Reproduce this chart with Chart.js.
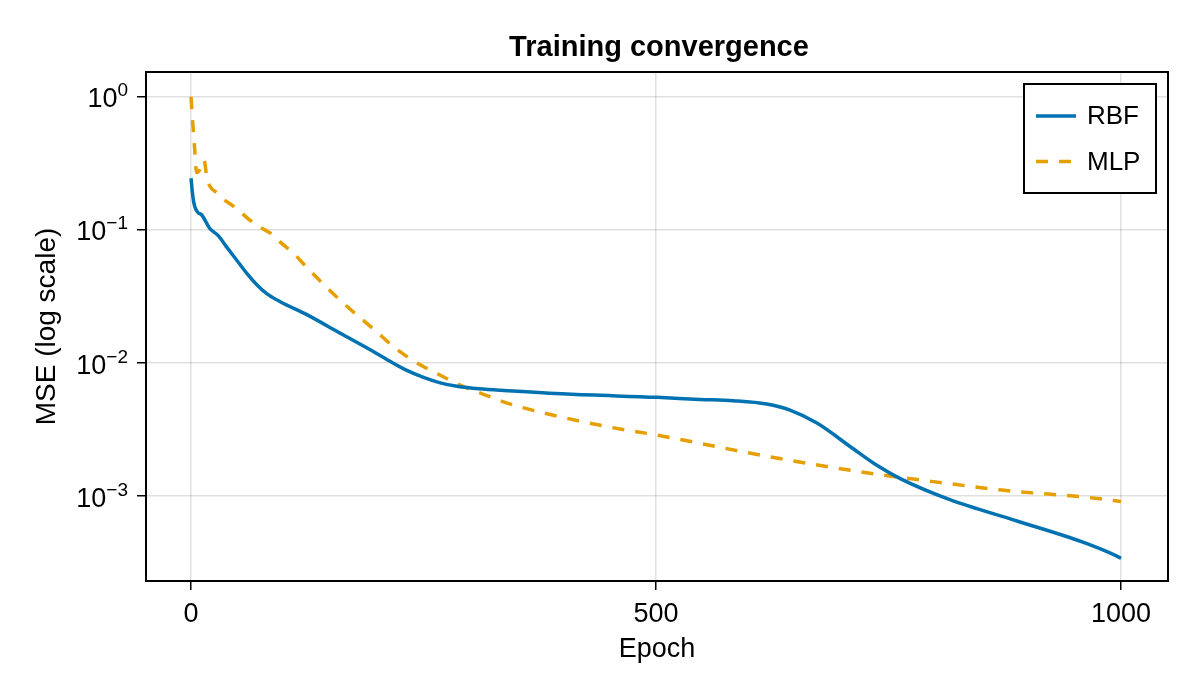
<!DOCTYPE html>
<html>
<head>
<meta charset="utf-8">
<script src="https://cdn.jsdelivr.net/npm/chart.js@4/dist/chart.umd.min.js"></script>
<style>
  html, body { margin: 0; padding: 0; background: #fff; }
  #wrap { width: 1200px; height: 700px; }
</style>
</head>
<body>
<div id="wrap"><canvas id="chart" width="1200" height="700"></canvas></div>
<script>
  const FONT = '"Liberation Sans", Arial, Helvetica, sans-serif';
  const BLUE = "#0072b2";
  const ORANGE = "#e69f00";

  const xTicks = [0, 500, 1000];
  const yTicks = [1e-3, 1e-2, 1e-1, 1];
  const yTickExponents = ["−3", "−2", "−1", "0"];

  const rbfEpochs = [0, 2, 4, 8, 11, 14, 20, 29, 38, 49, 60, 71, 81, 96, 125, 160, 196, 214, 232, 250, 268, 286, 310, 340, 404, 501, 547, 583, 619, 644, 673, 709, 737, 762, 816, 888, 959, 995, 1000];
  const rbfMse = [0.245, 0.178, 0.15, 0.134, 0.131, 0.122, 0.103, 0.091, 0.075, 0.0595, 0.0472, 0.0386, 0.0334, 0.0289, 0.023, 0.0168, 0.0122, 0.0103, 0.0088, 0.0078, 0.0071, 0.0067, 0.0064, 0.0062, 0.00585, 0.00552, 0.00533, 0.00521, 0.00492, 0.00443, 0.00354, 0.00235, 0.00171, 0.00136, 0.00094, 0.00065, 0.00045, 0.000355, 0.00034];

  const mlpEpochs = [0, 2, 4, 6, 9, 14, 17, 20, 28, 34, 44, 53, 63, 74, 85, 96, 110, 125, 160, 200, 217, 240, 265, 290, 315, 340, 370, 400, 450, 500, 618, 712, 743, 796, 872, 975, 1000];
  const mlpMse = [1.0, 0.62, 0.4, 0.27, 0.28, 0.335, 0.25, 0.215, 0.19, 0.172, 0.154, 0.137, 0.119, 0.105, 0.095, 0.081, 0.067, 0.052, 0.0298, 0.0171, 0.0134, 0.0103, 0.0083, 0.0068, 0.0058, 0.005, 0.00437, 0.0039, 0.0033, 0.00288, 0.002, 0.00155, 0.00144, 0.00129, 0.00111, 0.00096, 0.00091];

  const toPoints = (xs, ys) => xs.map((x, i) => ({ x, y: ys[i] }));

  // frame, title, 10^n tick labels and boxed legend like the original
  const decorPlugin = {
    id: "decor",
    afterDraw(chart) {
      const { ctx, chartArea: a } = chart;
      const ys = chart.scales.y;
      ctx.save();
      ctx.strokeStyle = "#000";
      ctx.lineWidth = 2;
      ctx.strokeRect(a.left, a.top, a.right - a.left, a.bottom - a.top);

      ctx.fillStyle = "#000";
      ctx.font = `bold 29px ${FONT}`;
      ctx.textAlign = "center";
      ctx.textBaseline = "middle";
      ctx.fillText("Training convergence", (a.left + a.right) / 2 + 2, 48);

      // y tick labels: "10" with raised exponent
      ctx.textBaseline = "alphabetic";
      ctx.textAlign = "left";
      yTicks.forEach((v, i) => {
        const py = ys.getPixelForValue(v);
        const exp = yTickExponents[i];
        ctx.font = `19px ${FONT}`;
        const ew = ctx.measureText(exp).width;
        ctx.font = `27px ${FONT}`;
        const bw = ctx.measureText("10").width;
        const right = 128;
        const x0 = right - ew - bw;
        ctx.fillText("10", x0, py + 10.5);
        ctx.font = `19px ${FONT}`;
        ctx.fillText(exp, x0 + bw, py - 0.5);
      });

      // legend
      const bx = 1024, by = 84, bw = 132, bh = 109;
      ctx.fillStyle = "#fff";
      ctx.fillRect(bx, by, bw, bh);
      ctx.strokeRect(bx, by, bw, bh);
      ctx.font = `26px ${FONT}`;
      ctx.textAlign = "left";
      ctx.textBaseline = "middle";
      chart.data.datasets.forEach((ds, i) => {
        const y = 116 + i * 45.5;
        ctx.strokeStyle = ds.borderColor;
        ctx.lineWidth = ds.borderWidth;
        ctx.setLineDash(ds.borderDash || []);
        ctx.beginPath();
        ctx.moveTo(1036, y);
        ctx.lineTo(1076, y);
        ctx.stroke();
        ctx.setLineDash([]);
        ctx.fillStyle = "#000";
        ctx.fillText(ds.label, 1087, y + 1);
      });
      ctx.restore();
    },
  };

  new Chart(document.getElementById("chart"), {
    type: "line",
    data: {
      datasets: [
        {
          label: "RBF",
          data: toPoints(rbfEpochs, rbfMse),
          borderColor: BLUE,
          borderWidth: 3.5,
          pointRadius: 0,
          cubicInterpolationMode: "monotone",
          fill: false,
        },
        {
          label: "MLP",
          data: toPoints(mlpEpochs, mlpMse),
          borderColor: ORANGE,
          borderWidth: 3.5,
          borderDash: [12, 11],
          pointRadius: 0,
          cubicInterpolationMode: "monotone",
          fill: false,
        },
      ],
    },
    options: {
      responsive: false,
      devicePixelRatio: 1,
      animation: false,
      layout: { padding: { top: 72, right: 32, bottom: 0, left: 0 } },
      plugins: {
        legend: { display: false },
        title: { display: false },
        tooltip: { enabled: false },
      },
      scales: {
        x: {
          type: "linear",
          min: -48.4,
          max: 1050.5,
          afterBuildTicks: (s) => { s.ticks = xTicks.map((v) => ({ value: v })); },
          afterFit: (s) => { s.height = 119; },
          grid: { color: "rgba(0,0,0,0.12)", lineWidth: 1.5, tickLength: 9, tickColor: "#000", tickWidth: 1.5 },
          border: { display: false },
          ticks: { color: "#000", font: { family: FONT, size: 27 }, padding: 8, maxRotation: 0, callback: (v) => String(v) },
          title: { display: true, text: "Epoch", color: "#000", font: { family: FONT, size: 27 }, padding: { top: 0, bottom: 34 } },
        },
        y: {
          type: "logarithmic",
          min: 2.3e-4,
          max: 1.54,
          afterBuildTicks: (s) => { s.ticks = yTicks.map((v) => ({ value: v })); },
          afterFit: (s) => { s.width = 146; },
          grid: { color: "rgba(0,0,0,0.12)", lineWidth: 1.5, tickLength: 9, tickColor: "#000", tickWidth: 1.5 },
          border: { display: false },
          ticks: { display: false },
          title: { display: true, text: "MSE (log scale)", color: "#000", font: { family: FONT, size: 28 }, padding: { top: 30, bottom: 0 } },
        },
      },
    },
    plugins: [decorPlugin],
  });
</script>
</body>
</html>
